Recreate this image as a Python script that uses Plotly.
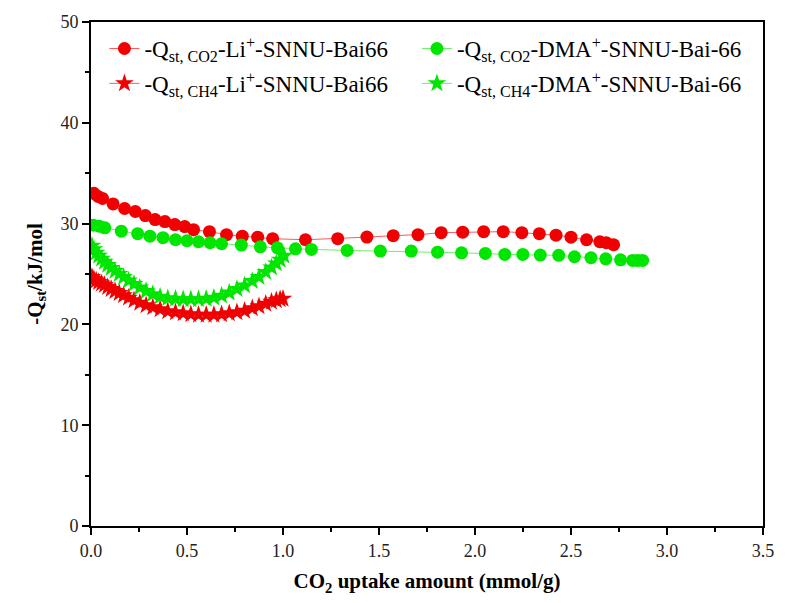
import plotly.graph_objects as go

# CO2 Qst, Li+-SNNU-Bai66 (red circles)
li_co2_x = [0.015, 0.037, 0.06, 0.115, 0.175, 0.231, 0.283, 0.334, 0.385, 0.437, 0.488, 0.534,
            0.617, 0.706, 0.788, 0.868, 0.946, 1.117, 1.285, 1.437, 1.574, 1.703, 1.824, 1.936,
            2.045, 2.147, 2.244, 2.335, 2.422, 2.500, 2.581, 2.650, 2.684, 2.722]
li_co2_y = [33.0, 32.7, 32.5, 31.95, 31.5, 31.2, 30.8, 30.4, 30.2, 29.9, 29.7, 29.4,
            29.2, 28.9, 28.75, 28.65, 28.5, 28.4, 28.5, 28.66, 28.8, 28.9, 29.1, 29.15,
            29.2, 29.2, 29.1, 29.0, 28.85, 28.65, 28.4, 28.2, 28.1, 27.9]

# CO2 Qst, DMA+-SNNU-Bai-66 (green circles)
dma_co2_x = [0.012, 0.043, 0.072, 0.158, 0.243, 0.307, 0.375, 0.44, 0.50, 0.56, 0.62, 0.68,
             0.783, 0.882, 0.971, 1.065, 1.148, 1.334, 1.507, 1.668, 1.805, 1.93, 2.054, 2.155,
             2.249, 2.34, 2.436, 2.518, 2.604, 2.681, 2.758, 2.821, 2.847, 2.873]
dma_co2_y = [29.84, 29.74, 29.58, 29.25, 29.0, 28.75, 28.6, 28.4, 28.3, 28.2, 28.1, 28.0,
             27.87, 27.7, 27.6, 27.5, 27.44, 27.34, 27.27, 27.27, 27.17, 27.1, 27.04, 26.94,
             26.94, 26.88, 26.85, 26.71, 26.61, 26.51, 26.41, 26.35, 26.35, 26.35]

# CH4 Qst, Li+-SNNU-Bai66 (red stars)
li_ch4_x = [0.005, 0.015, 0.027, 0.04, 0.055, 0.07, 0.087, 0.105, 0.125, 0.147, 0.17, 0.196,
            0.224, 0.254, 0.287, 0.322, 0.36, 0.4, 0.44, 0.48, 0.52, 0.56, 0.6, 0.64, 0.68,
            0.72, 0.76, 0.8, 0.84, 0.875, 0.91, 0.94, 0.965, 0.985, 1.0]
li_ch4_y = [24.7, 24.5, 24.35, 24.2, 24.05, 23.9, 23.7, 23.5, 23.3, 23.1, 22.9, 22.65,
            22.4, 22.15, 21.9, 21.7, 21.5, 21.3, 21.2, 21.1, 21.0, 20.95, 20.95, 20.95, 21.0,
            21.1, 21.2, 21.35, 21.6, 21.8, 22.05, 22.25, 22.4, 22.5, 22.55]

# CH4 Qst, DMA+-SNNU-Bai-66 (green stars)
dma_ch4_x = [0.005, 0.015, 0.027, 0.04, 0.055, 0.07, 0.087, 0.105, 0.125, 0.147, 0.17, 0.196,
             0.224, 0.254, 0.287, 0.322, 0.36, 0.4, 0.44, 0.48, 0.52, 0.56, 0.6, 0.64, 0.68,
             0.72, 0.76, 0.8, 0.84, 0.875, 0.91, 0.94, 0.965, 0.985, 1.005]
dma_ch4_y = [27.8, 27.45, 27.1, 26.8, 26.5, 26.2, 25.9, 25.6, 25.3, 25.0, 24.7, 24.35,
             24.0, 23.65, 23.3, 23.0, 22.75, 22.6, 22.55, 22.5, 22.5, 22.5, 22.55, 22.65, 22.85,
             23.15, 23.5, 23.85, 24.3, 24.7, 25.2, 25.65, 26.05, 26.4, 26.8]

names = [
    "-Q<sub>st, CO2</sub>-Li<sup>+</sup>-SNNU-Bai66",
    "-Q<sub>st, CH4</sub>-Li<sup>+</sup>-SNNU-Bai66",
    "-Q<sub>st, CO2</sub>-DMA<sup>+</sup>-SNNU-Bai-66",
    "-Q<sub>st, CH4</sub>-DMA<sup>+</sup>-SNNU-Bai-66",
]

RED = "#f00000"
GREEN = "#00e600"
FONT = "Times New Roman, Liberation Serif, serif"

fig = go.Figure()

def add(x, y, name, color, linecolor, symbol, size, legend, group):
    fig.add_trace(go.Scatter(
        x=x, y=y, name=name, mode="lines+markers", legend=legend, legendgroup=group,
        line=dict(color=linecolor, width=1),
        marker=dict(symbol=symbol, size=size, color=color, line=dict(width=0)),
    ))

add(li_co2_x, li_co2_y, names[0], RED, "#ff5a5a", "circle", 13, "legend", "g1")
add(li_ch4_x, li_ch4_y, names[1], RED, "#ff5a5a", "star", 14, "legend", "g2")
add(dma_co2_x, dma_co2_y, names[2], GREEN, "#6cf06c", "circle", 13, "legend2", "g3")
add(dma_ch4_x, dma_ch4_y, names[3], GREEN, "#6cf06c", "star", 14, "legend2", "g4")

legend_common = dict(
    font=dict(family=FONT, size=23, color="black"),
    bgcolor="rgba(0,0,0,0)", borderwidth=0,
    xanchor="left", yanchor="top", tracegroupgap=2,
)

fig.update_layout(
    width=786, height=603,
    margin=dict(l=91, r=14, t=20, b=77),
    paper_bgcolor="white", plot_bgcolor="white",
    font=dict(family=FONT, color="black"),
    legend=dict(x=0.02, y=0.99, **legend_common),
    legend2=dict(x=0.485, y=0.99, **legend_common),
    xaxis=dict(
        range=[0, 3.5], tickvals=[0, 0.5, 1.0, 1.5, 2.0, 2.5, 3.0, 3.5],
        ticktext=["0.0", "0.5", "1.0", "1.5", "2.0", "2.5", "3.0", "3.5"],
        showline=True, linecolor="black", linewidth=2, mirror=True,
        ticks="outside", ticklen=7, tickwidth=2, tickcolor="black",
        minor=dict(dtick=0.25, ticks="outside", ticklen=4, tickwidth=2, tickcolor="black"),
        showgrid=False, zeroline=False,
        tickfont=dict(family=FONT, size=18, color="#222"),
        title=dict(text="<b>CO<sub>2</sub> uptake amount (mmol/g)</b>",
                   font=dict(family=FONT, size=21, color="black"), standoff=14),
    ),
    yaxis=dict(
        range=[0, 50], tickvals=[0, 10, 20, 30, 40, 50],
        showline=True, linecolor="black", linewidth=2, mirror=True,
        ticks="outside", ticklen=7, tickwidth=2, tickcolor="black",
        minor=dict(dtick=5, ticks="outside", ticklen=4, tickwidth=2, tickcolor="black"),
        showgrid=False, zeroline=False,
        tickfont=dict(family=FONT, size=18, color="#222"),
        title=dict(text="<b>-Q<sub>st</sub>/kJ/mol</b>",
                   font=dict(family=FONT, size=21, color="black"), standoff=12),
    ),
    showlegend=True,
)

fig.write_html("out.html")
